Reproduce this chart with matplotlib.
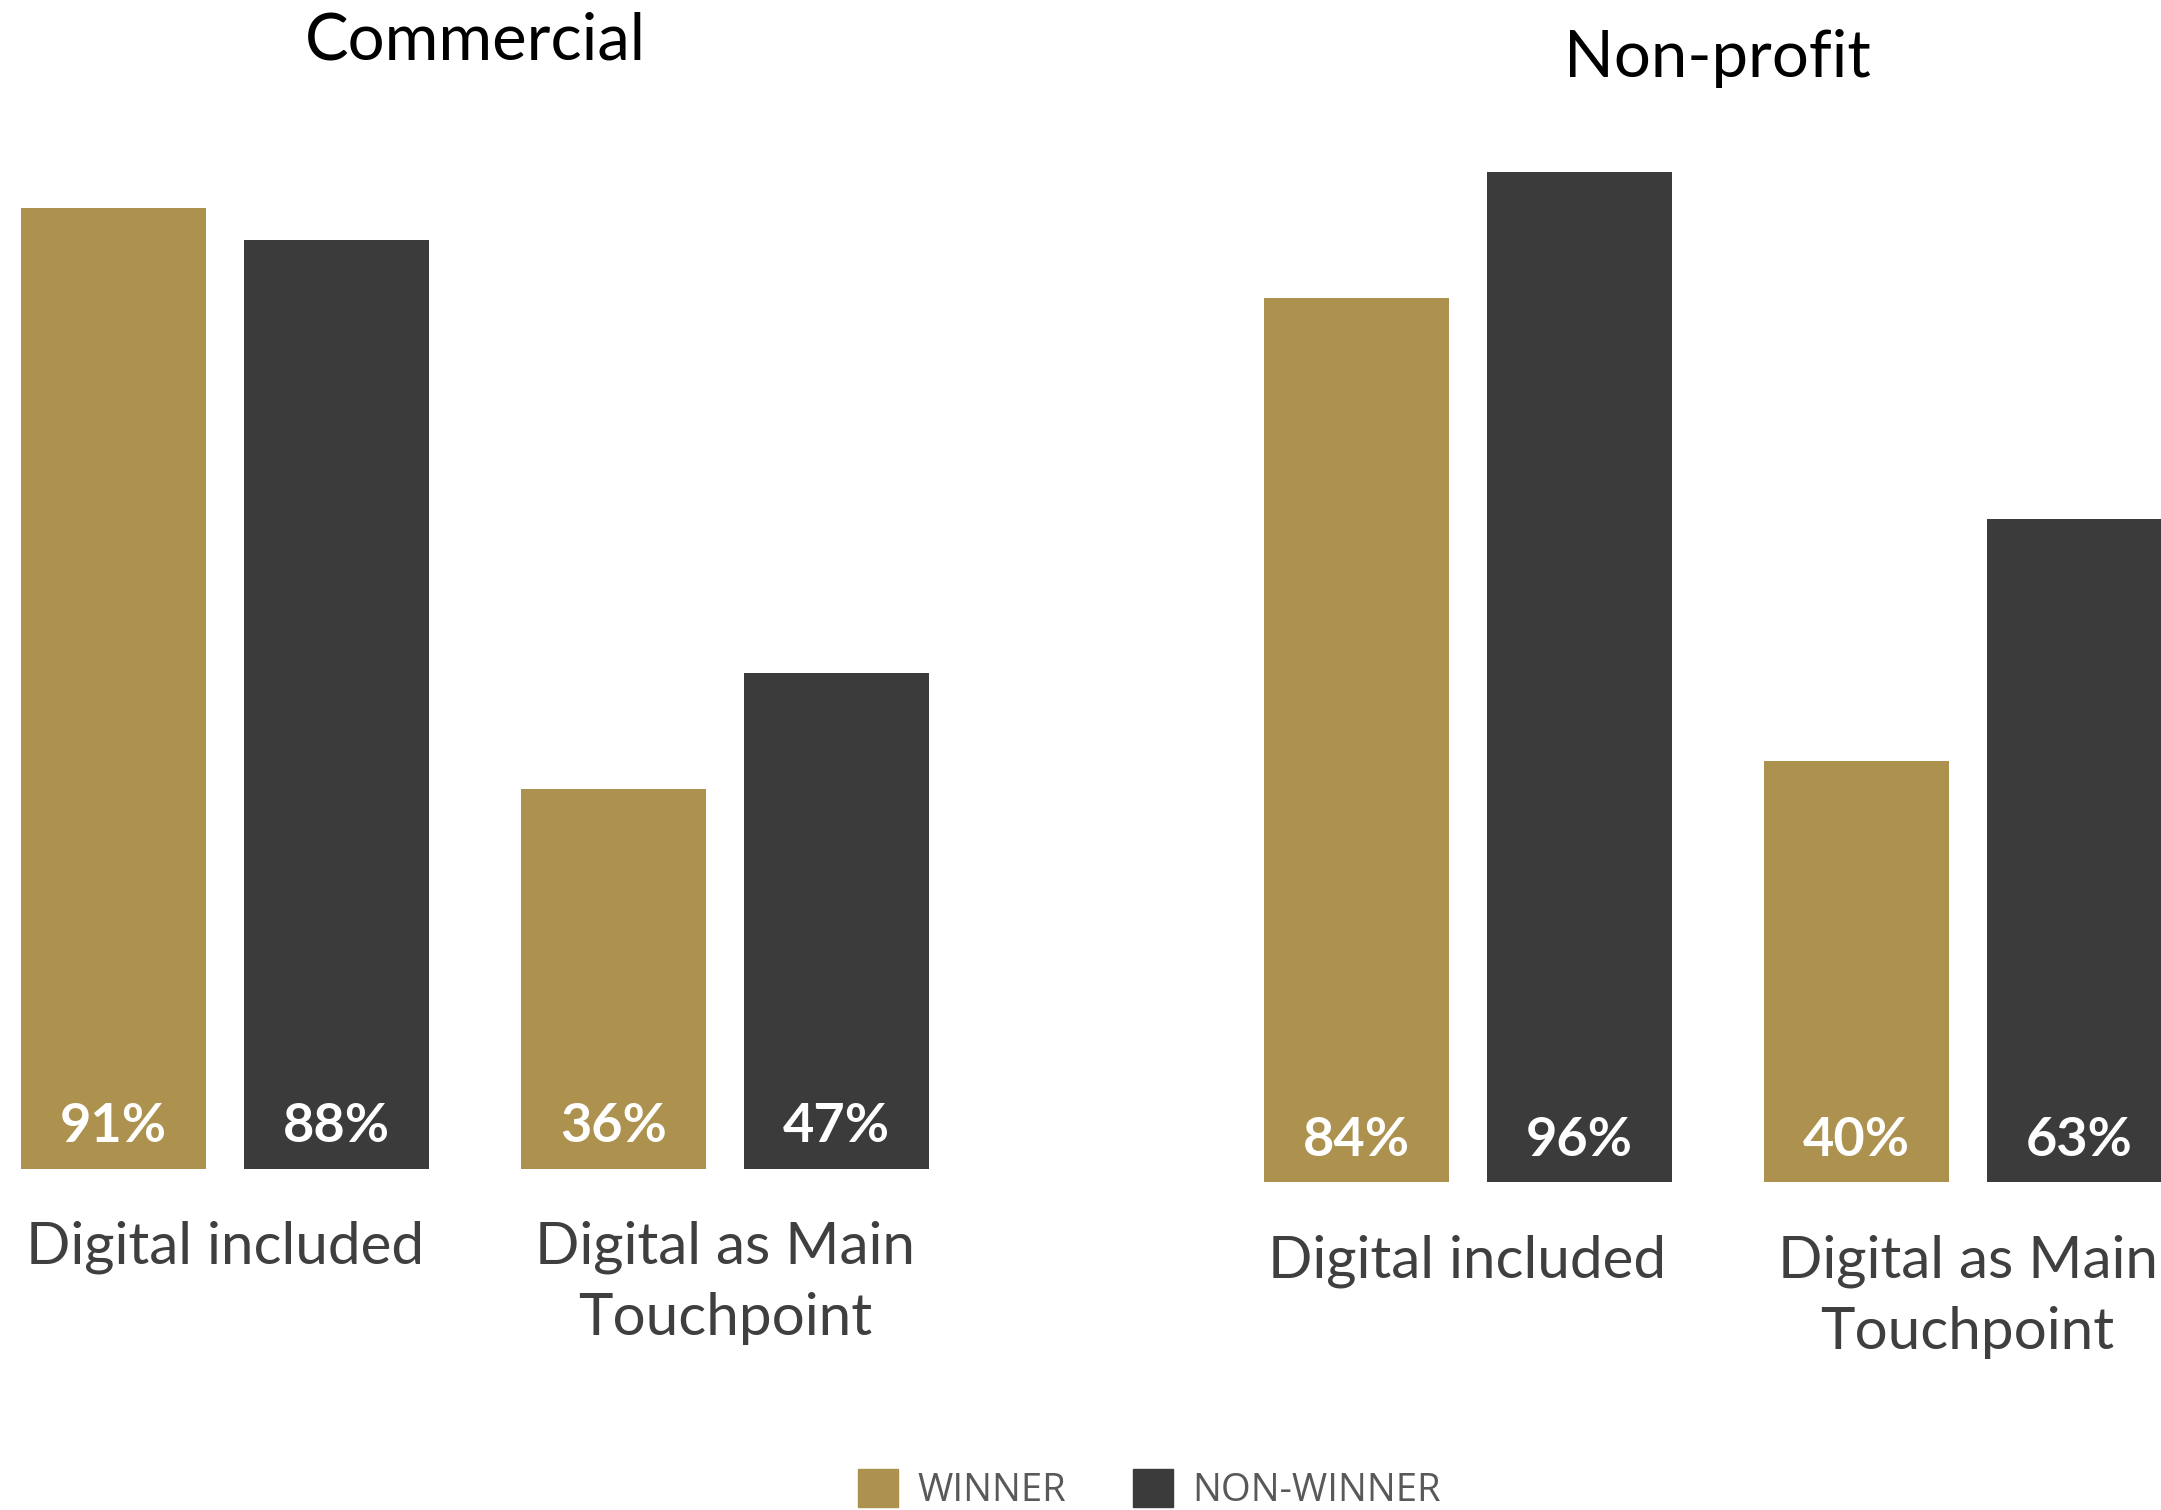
import matplotlib
matplotlib.use("Agg")
import matplotlib.pyplot as plt
from matplotlib.patches import Patch
import numpy as np

# Data
panels = ["Commercial", "Non-profit"]
categories = ["Digital included", "Digital as Main\nTouchpoint"]
series = ["WINNER", "NON-WINNER"]
commercial_winner = [91, 36]
commercial_nonwinner = [88, 47]
nonprofit_winner = [84, 40]
nonprofit_nonwinner = [96, 63]

GOLD = "#AD924F"
DARK = "#3B3B3B"
LABEL_GREY = "#3F3F3F"
LEGEND_GREY = "#595959"

W, H = 2161, 1510
DPI = 100
fig = plt.figure(figsize=(W / DPI, H / DPI), dpi=DPI)

TITLE_FONT = "Lato"


def px_axes(left, right, bottom_from_top, height):
    """Axes placed in pixel units of the figure (y measured from top)."""
    return fig.add_axes([left / W, (H - bottom_from_top) / H,
                         (right - left) / W, height / H])


def draw_panel(ax, title, winner, nonwinner, xlim):
    x = np.arange(len(categories))
    bw = 0.37
    off = 0.223
    b1 = ax.bar(x - off, winner, width=bw, color=GOLD)
    b2 = ax.bar(x + off, nonwinner, width=bw, color=DARK)
    for bars, vals in ((b1, winner), (b2, nonwinner)):
        for rect, v in zip(bars, vals):
            ax.annotate(f"{v}%", xy=(rect.get_x() + rect.get_width() / 2, 0),
                        xytext=(0, 42), textcoords="offset pixels",
                        ha="center", va="center", color="white",
                        fontsize=39, fontweight="bold", family=TITLE_FONT)
    for xi, cat in zip(x, categories):
        ax.annotate(cat, xy=(xi, 0), xytext=(0, -52), textcoords="offset pixels",
                    ha="center", va="top", color=LABEL_GREY,
                    fontsize=42, family=TITLE_FONT, linespacing=1.42)
    ax.annotate(title, xy=(0.5, 100), xytext=(0, 72), textcoords="offset pixels",
                ha="center", va="center", color="black",
                fontsize=47, family=TITLE_FONT)
    ax.set_xlim(*xlim)
    ax.set_ylim(0, 100)
    ax.axis("off")


ax1 = px_axes(0, 1100, 1168.6, 1055.5)
draw_panel(ax1, panels[0], commercial_winner, commercial_nonwinner,
           ((0 - 225) / 500, (1100 - 225) / 500))

ax2 = px_axes(1100, W, 1182, 1052)
draw_panel(ax2, panels[1], nonprofit_winner, nonprofit_nonwinner,
           ((1100 - 1467.5) / 500, (W - 1467.5) / 500))

handles = [Patch(color=GOLD), Patch(color=DARK)]
leg = fig.legend(handles, series, loc="lower center", bbox_to_anchor=(0.532, 0),
                 ncol=2, frameon=False, borderpad=0, borderaxespad=0,
                 handlelength=1.05, handleheight=1.13, handletextpad=0.5,
                 columnspacing=1.75,
                 prop={"family": "Open Sans", "size": 27.5})
for t in leg.get_texts():
    t.set_color(LEGEND_GREY)

fig.savefig("out.png", dpi=DPI)
